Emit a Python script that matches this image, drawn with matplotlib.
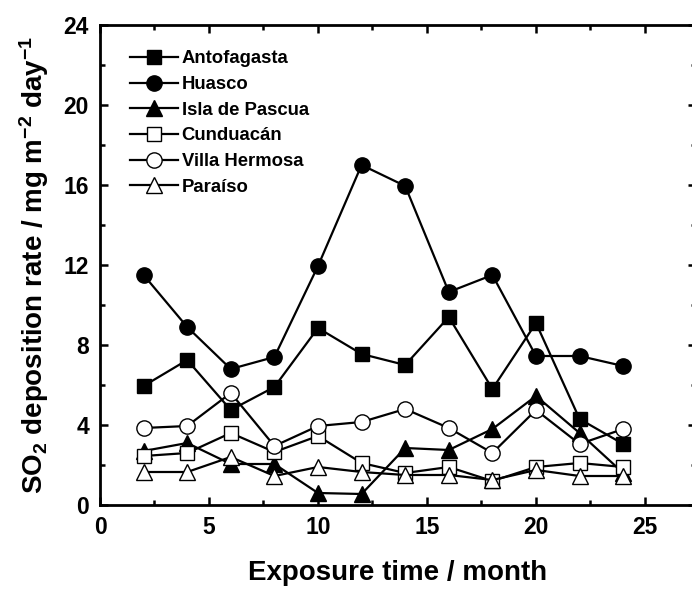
import numpy as np
import matplotlib
matplotlib.use("Agg")
import matplotlib.pyplot as plt
from matplotlib.ticker import MultipleLocator

plt.rcParams['font.family'] = ['Liberation Sans', 'DejaVu Sans']
plt.rcParams['font.weight'] = 'bold'
plt.rcParams['mathtext.fontset'] = 'custom'
plt.rcParams['mathtext.bf'] = 'Liberation Sans:bold'
plt.rcParams['mathtext.rm'] = 'Liberation Sans:bold'
plt.rcParams['mathtext.default'] = 'bf'

# exposure time (months)
months = [2, 4, 6, 8, 10, 12, 14, 16, 18, 20, 22, 24]

antofagasta = [5.95, 7.25, 4.75, 5.9, 8.85, 7.55, 7.0, 9.4, 5.8, 9.1, 4.3, 3.05]
huasco = [11.5, 8.9, 6.8, 7.4, 11.95, 17.0, 15.95, 10.65, 11.5, 7.45, 7.45, 6.95]
isla_pascua = [2.7, 3.1, 2.05, 2.05, 0.6, 0.55, 2.85, 2.75, 3.8, 5.45, 3.6, 1.6]
cunduacan = [2.45, 2.6, 3.6, 2.65, 3.45, 2.1, 1.6, 1.9, 1.2, 1.9, 2.1, 1.9]
villa_hermosa = [3.85, 3.95, 5.6, 2.95, 3.95, 4.15, 4.8, 3.85, 2.6, 4.75, 3.05, 3.8]
paraiso = [1.65, 1.65, 2.4, 1.45, 1.9, 1.65, 1.5, 1.5, 1.25, 1.75, 1.45, 1.45]

series = [
    ("Antofagasta", antofagasta, 's', 'black'),
    ("Huasco", huasco, 'o', 'black'),
    ("Isla de Pascua", isla_pascua, '^', 'black'),
    ("Cunduacán", cunduacan, 's', 'white'),
    ("Villa Hermosa", villa_hermosa, 'o', 'white'),
    ("Paraíso", paraiso, '^', 'white'),
]

fig = plt.figure(figsize=(6.92, 5.89), dpi=100)
# right spine sits just past the image edge, like the cropped original
ax = fig.add_axes([100/692, 84/589, 596/692, 480/589])

for name, vals, mk, fc in series:
    ms = 10 if mk == 's' else 11
    ax.plot(months, vals, color='black', lw=1.6, marker=mk, ms=ms,
            mfc=fc, mec='black', mew=1.0, label=name)

ax.set_xlim(0, 27.34)
ax.set_ylim(0, 24)
ax.xaxis.set_major_locator(MultipleLocator(5))
ax.xaxis.set_minor_locator(MultipleLocator(2.5))
ax.yaxis.set_major_locator(MultipleLocator(4))
ax.yaxis.set_minor_locator(MultipleLocator(2))
ax.tick_params(which='both', direction='in', top=True, right=True, width=1.8,
               labelsize=16.5, pad=8)
ax.tick_params(which='major', length=6)
ax.tick_params(which='minor', length=3.5)
for s in ax.spines.values():
    s.set_linewidth(2)

ax.set_xlabel("Exposure time / month", fontsize=20, fontweight='bold')
ax.set_ylabel("SO$_2$ deposition rate / mg m$^{-2}$ day$^{-1}$", fontsize=20,
              fontweight='bold')
ax.xaxis.set_label_coords(0.5, -0.115)
ax.yaxis.set_label_coords(-0.082, 0.5)

leg = ax.legend(loc='upper left', bbox_to_anchor=(0.05, 0.947), frameon=False,
                fontsize=13.3, handlelength=2.6, handletextpad=0.2,
                labelspacing=0.47, borderaxespad=0, borderpad=0)

fig.savefig("out.png", dpi=100)
